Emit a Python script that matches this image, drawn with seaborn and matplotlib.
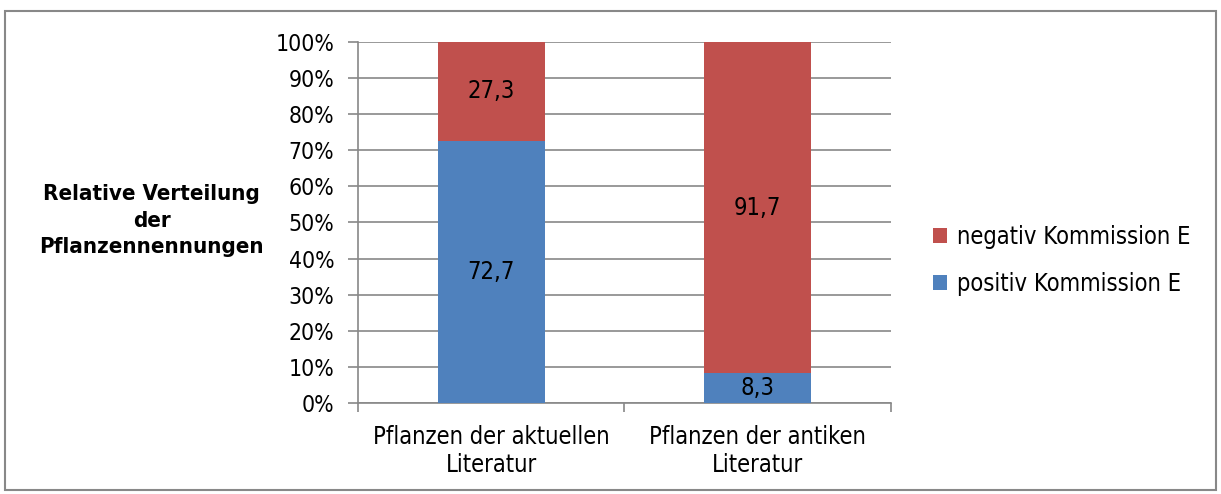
import matplotlib
matplotlib.use("Agg")
import matplotlib.pyplot as plt
import seaborn as sns
from matplotlib.patches import Patch, Rectangle

categories = ["Pflanzen der aktuellen\nLiteratur", "Pflanzen der antiken\nLiteratur"]
positive = [72.7, 8.3]
negative = [27.3, 91.7]
labels_pos = ["72,7", "8,3"]
labels_neg = ["27,3", "91,7"]
series_names = ["negativ Kommission E", "positiv Kommission E"]
yticks = [0, 10, 20, 30, 40, 50, 60, 70, 80, 90, 100]

BLUE = "#4F81BD"
RED = "#C0504D"
GRID = "#888888"

sns.set_theme(style="white")
plt.rcParams["font.family"] = ["DejaVu Sans"]
plt.rcParams["font.stretch"] = "condensed"
plt.rcParams["text.color"] = "black"
plt.rcParams["axes.labelcolor"] = "black"

fig = plt.figure(figsize=(12.21, 4.94), dpi=100)
ax = fig.add_axes([0.2932, 0.1842, 0.4365, 0.7308])

totals = [p + n for p, n in zip(positive, negative)]
sns.barplot(x=categories, y=totals, color=RED, saturation=1, width=0.4, ax=ax,
            zorder=3, linewidth=0, edgecolor="none")
sns.barplot(x=categories, y=positive, color=BLUE, saturation=1, width=0.4, ax=ax,
            zorder=4, linewidth=0, edgecolor="none")

ax.set_ylim(0, 100)
ax.set_xlim(-0.5, 1.5)
ax.set_yticks(yticks)
ax.set_yticklabels([f"{t}%" for t in yticks])
ax.yaxis.grid(True, color=GRID, linewidth=1.2, zorder=0)
ax.set_axisbelow(True)

for side in ["top", "right"]:
    ax.spines[side].set_visible(False)
for side in ["left", "bottom"]:
    ax.spines[side].set_color(GRID)
    ax.spines[side].set_linewidth(1.2)

ax.tick_params(axis="y", which="both", left=True, length=7, width=1.2, color=GRID,
               labelsize=16.5, labelcolor="black", pad=10)
ax.tick_params(axis="x", which="both", bottom=False, labelsize=17, labelcolor="black", pad=10)
ax.set_xticks([-0.5, 0.5, 1.5], minor=True)
ax.tick_params(axis="x", which="minor", bottom=True, length=6.5, width=1.2, color=GRID)
ax.set_xticks([0, 1])
ax.set_xticklabels(categories, linespacing=1.2)

# segment value labels
for i in range(len(categories)):
    ax.text(i, positive[i] / 2, labels_pos[i], ha="center", va="center", fontsize=17,
            color="black", zorder=5)
    ax.text(i, positive[i] + negative[i] / 2, labels_neg[i], ha="center", va="center",
            fontsize=17, color="black", zorder=5)

ax.set_ylabel("Relative Verteilung\nder\nPflanzennennungen", rotation=0, fontsize=16,
              fontweight="bold", ha="center", va="center", linespacing=1.42, color="black")
ax.yaxis.set_label_coords(-0.387, 0.505)

handles = [Patch(facecolor=RED, edgecolor="none"), Patch(facecolor=BLUE, edgecolor="none")]
fig.legend(handles, series_names, loc="center left", bbox_to_anchor=(0.7641, 0.473),
           frameon=False, fontsize=17, handlelength=0.6, handleheight=0.6,
           handletextpad=0.4, labelspacing=1.0, borderpad=0, borderaxespad=0,
           labelcolor="black")

fig.patches.append(Rectangle((0.004, 0.008), 0.992, 0.97, transform=fig.transFigure,
                             fill=False, edgecolor=GRID, linewidth=1.5))

fig.savefig("out.png", dpi=100)
